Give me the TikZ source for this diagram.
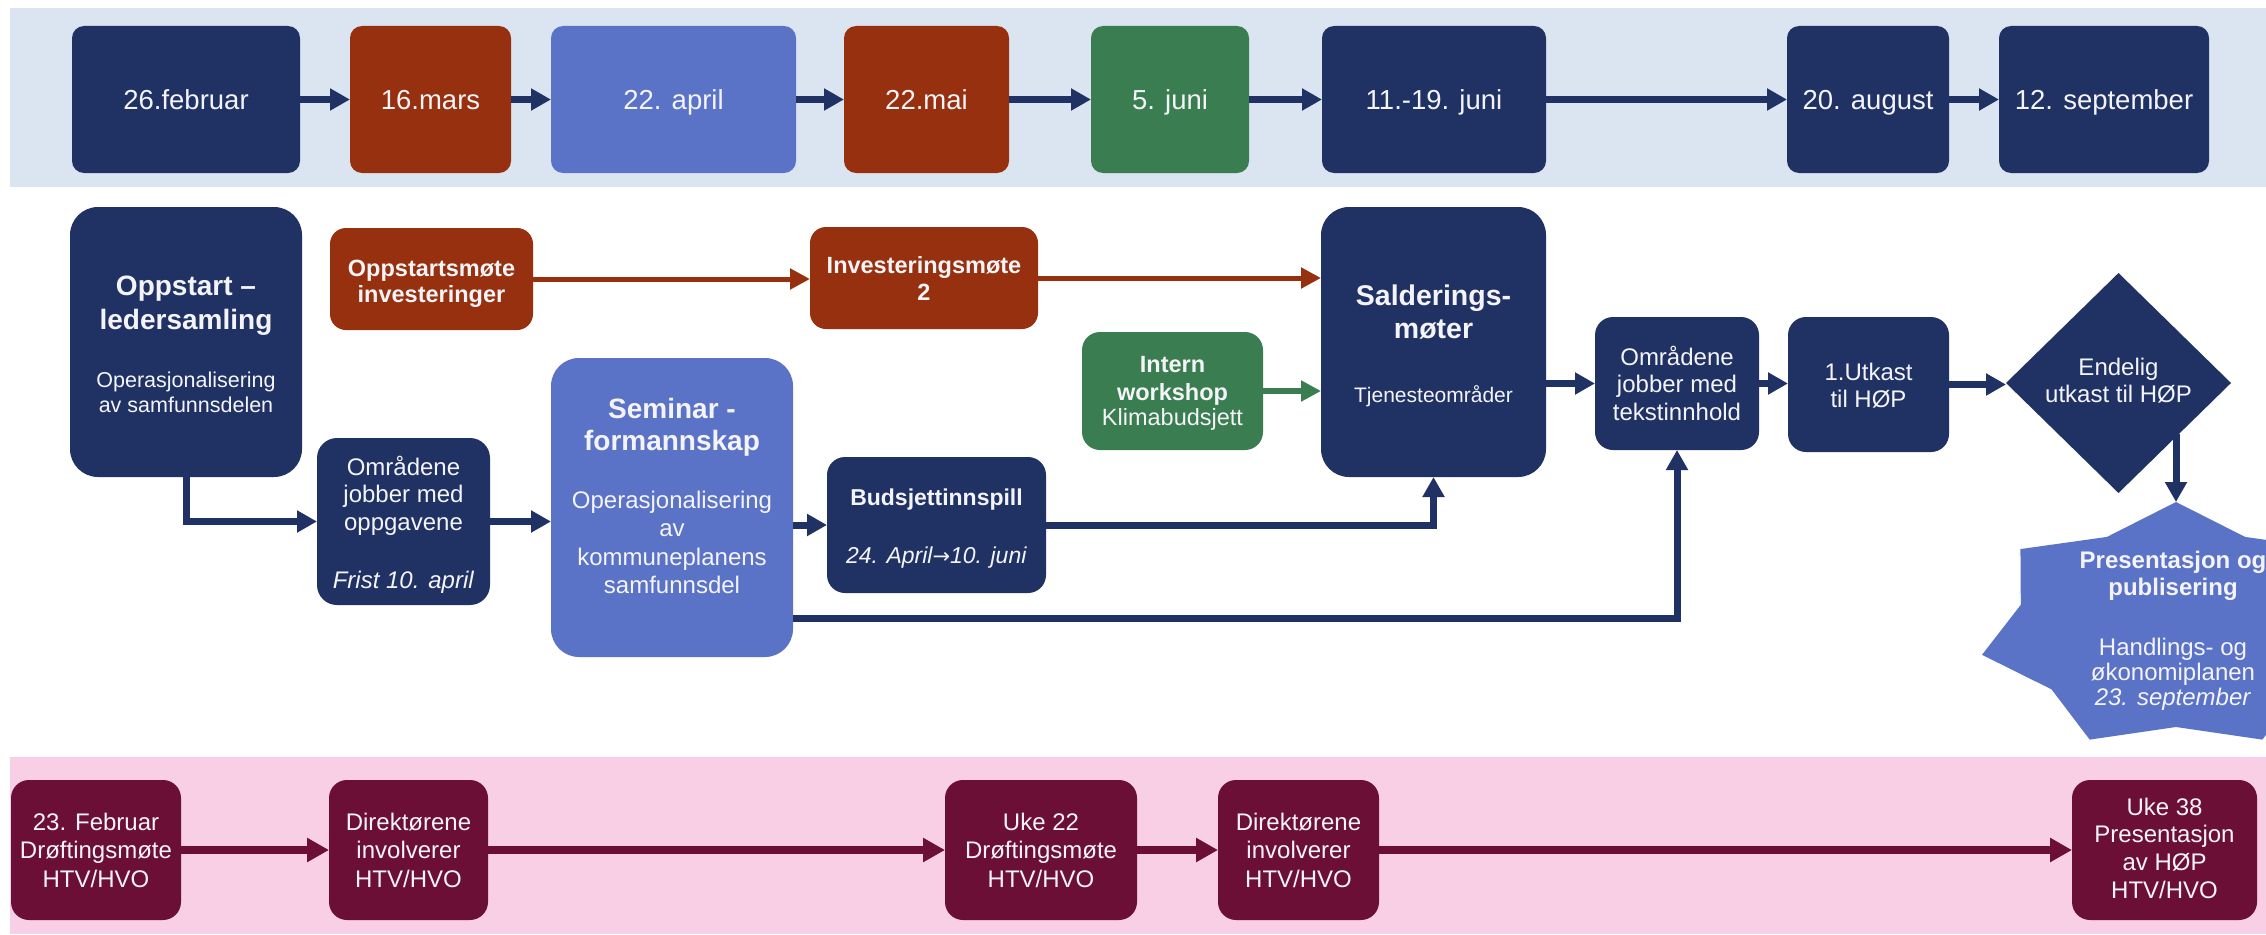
\documentclass[tikz,border=0pt]{standalone}
\usepackage{fontspec}
\setmainfont{Liberation Sans}
\newfontfamily\symfont{DejaVu Sans}
\usetikzlibrary{arrows.meta,shapes.geometric}
\definecolor{navy}{RGB}{32,50,100}
\definecolor{rust}{RGB}{150,48,14}
\definecolor{peri}{RGB}{90,115,199}
\definecolor{grn}{RGB}{57,125,81}
\definecolor{wine}{RGB}{108,15,54}
\definecolor{bandblue}{RGB}{218,229,241}
\definecolor{bandpink}{RGB}{248,207,228}
\definecolor{txtc}{RGB}{244,244,248}
\newcommand{\ml}[1]{\begin{tabular}[t]{@{}c@{}}#1\end{tabular}}
\begin{document}
\begin{tikzpicture}[x=1pt,y=-1pt,
  bx/.style={fill=#1, draw=none, inner sep=0pt, outer sep=0pt},
  topbox/.style={bx=#1, minimum height=147pt, rounded corners=12pt},
  botbox/.style={bx=wine, minimum height=140pt, rounded corners=18pt},
  lbl/.style={anchor=base, inner sep=0pt, outer sep=0pt, text=txtc},
  fs/.style 2 args={font=\fontsize{#1}{#2}\selectfont},
  fb/.style 2 args={font=\bfseries\fontsize{#1}{#2}\selectfont},
  arr/.style={draw=navy, line width=7pt, -{Triangle[length=20pt,width=21pt]}},
  rarr/.style={draw=rust, line width=5pt, -{Triangle[length=20pt,width=20pt]}},
  garr/.style={draw=grn, line width=5.5pt, -{Triangle[length=20pt,width=20pt]}},
  warr/.style={draw=wine, line width=8pt, -{Triangle[length=22pt,width=23pt]}}]
\useasboundingbox (0,0) rectangle (2266,934);
\clip (0,0) rectangle (2266,934);
\fill[white] (0,0) rectangle (2266,934);
% bands
\fill[bandblue] (10,8) rectangle (2266,187);
\fill[bandpink] (10,757) rectangle (2266,934);

% top row
\node[topbox=navy, minimum width=228pt] (t1) at (186,99.5) {};
\node[topbox=rust, minimum width=161pt] (t2) at (430.5,99.5) {};
\node[topbox=peri, minimum width=245pt] (t3) at (673.5,99.5) {};
\node[topbox=rust, minimum width=165pt] (t4) at (926.5,99.5) {};
\node[topbox=grn, minimum width=158pt] (t5) at (1170,99.5) {};
\node[topbox=navy, minimum width=224pt] (t6) at (1434,99.5) {};
\node[topbox=navy, minimum width=162pt] (t7) at (1868,99.5) {};
\node[topbox=navy, minimum width=210pt] (t8) at (2104,99.5) {};
\node[lbl, fs={27.5}{32}] (t1l) at (186,109.5) {26.februar};
\node[lbl, fs={27.5}{32}] (t2l) at (430.5,109.5) {16.mars};
\node[lbl, fs={27.5}{32}] (t3l) at (673.5,109.5) {22. april};
\node[lbl, fs={27.5}{32}] (t4l) at (926.5,109.5) {22.mai};
\node[lbl, fs={27.5}{32}] (t5l) at (1170,109.5) {5. juni};
\node[lbl, fs={27.5}{32}] (t6l) at (1434,109.5) {11.-19. juni};
\node[lbl, fs={27.5}{32}] (t7l) at (1868,109.5) {20. august};
\node[lbl, fs={27.5}{32}] (t8l) at (2104,109.5) {12. september};
\draw[arr] (t1.east) -- (t2.west);
\draw[arr] (t2.east) -- (t3.west);
\draw[arr] (t3.east) -- (t4.west);
\draw[arr] (t4.east) -- (t5.west);
\draw[arr] (t5.east) -- (t6.west);
\draw[arr] (t6.east) -- (t7.west);
\draw[arr] (t7.east) -- (t8.west);

% middle
\node[bx=navy, minimum width=232pt, minimum height=270pt, rounded corners=28pt] (oppstart) at (186,342) {};
\node[lbl, fb={28}{34}] (oppstartT) at (186,295) {\ml{Oppstart –\\ledersamling}};
\node[lbl, fs={21.5}{25}] (oppstartB) at (186,387) {\ml{Operasjonalisering\\av samfunnsdelen}};

\node[bx=rust, minimum width=203pt, minimum height=102pt, rounded corners=16pt] (oppinv) at (431.5,279) {};
\node[lbl, fb={23.5}{26}] (oppinvT) at (431.5,276) {\ml{Oppstartsmøte\\investeringer}};

\node[bx=navy, minimum width=173pt, minimum height=167pt, rounded corners=20pt] (omr1) at (403.5,521.5) {};
\node[lbl, fs={24}{27.5}] (omr1T) at (403.5,475) {\ml{Områdene\\jobber med\\oppgavene}};
\node[lbl, fs={24}{27.5}] (omr1B) at (403.5,588) {\textit{Frist 10. april}};

\node[bx=peri, minimum width=242pt, minimum height=299pt, rounded corners=28pt] (seminar) at (672,507.5) {};
\node[lbl, fb={28}{32}] (seminarT) at (672,418) {\ml{Seminar -\\formannskap}};
\node[lbl, fs={24}{28.5}] (seminarB) at (672,508) {\ml{Operasjonalisering\\av\\kommuneplanens\\samfunnsdel}};

\node[bx=navy, minimum width=219pt, minimum height=136pt, rounded corners=18pt] (budsjett) at (936.5,525) {};
\node[lbl, fb={23}{27}] (budsjettT) at (936.5,505) {Budsjettinnspill};
\node[lbl, fs={23}{27}] (budsjettB) at (936.5,563) {\textit{24. April{\symfont\fontsize{21}{25}\selectfont →}10. juni}};

\node[bx=rust, minimum width=228pt, minimum height=102pt, rounded corners=16pt] (inv2) at (924,278) {};
\node[lbl, fb={23.5}{27}] (inv2T) at (924,273) {\ml{Investeringsmøte\\2}};

\node[bx=grn, minimum width=181pt, minimum height=118pt, rounded corners=18pt] (intern) at (1172.5,391) {};
\node[lbl, fb={23.5}{28}] (internT) at (1172.5,372) {\ml{Intern\\workshop}};
\node[lbl, fs={23.5}{28}] (internB) at (1172.5,425) {Klimabudsjett};

\node[bx=navy, minimum width=225pt, minimum height=270pt, rounded corners=28pt] (salder) at (1433.5,342) {};
\node[lbl, fb={28.5}{33}] (salderT) at (1433.5,305) {\ml{Salderings-\\møter}};
\node[lbl, fs={21}{25}] (salderB) at (1433.5,402) {Tjenesteområder};

\node[bx=navy, minimum width=164pt, minimum height=133pt, rounded corners=18pt] (omr2) at (1677,383.5) {};
\node[lbl, fs={24}{27.5}] (omr2T) at (1677,365) {\ml{Områdene\\jobber med\\tekstinnhold}};

\node[bx=navy, minimum width=161pt, minimum height=135pt, rounded corners=18pt] (utk) at (1868.5,384.5) {};
\node[lbl, fs={24}{27}] (utkT) at (1868.5,380) {\ml{1.Utkast\\til HØP}};

\node[bx=navy, shape=diamond, minimum width=225pt, minimum height=220pt] (diamond) at (2118.5,383) {};
\node[lbl, fs={24}{27}] (diamondT) at (2118.5,375) {\ml{Endelig\\utkast til HØP}};

% star
\fill[peri] plot[variable=\k, samples at={0,1,...,13}]
  ({2176+199*ifthenelse(mod(\k,2)==0,1,0.8)*cos(90+25.7143*\k)},
   {627-125*ifthenelse(mod(\k,2)==0,1,0.8)*sin(90+25.7143*\k)}) -- cycle;
\coordinate (startop) at (2176,502);
\node[lbl, fb={24}{27}] (starT) at (2173,568) {\ml{Presentasjon og\\publisering}};
\node[lbl, fs={24}{25}] (starB) at (2173,655) {\ml{Handlings- og\\økonomiplanen\\\textit{23. september}}};

% middle connectors
\coordinate (lowy) at (0,618);
\draw[arr] (oppstart.south) |- (omr1.west);
\draw[arr] (omr1.east) -- (omr1.east -| seminar.west);
\draw[arr] (seminar.east |- budsjett.west) -- (budsjett.west);
\draw[arr] (budsjett.east) -| (salder.south);
\draw[arr] (seminar.east |- lowy) -| (omr2.south);
\draw[rarr] (oppinv.east) -- (oppinv.east -| inv2.west);
\draw[rarr] (inv2.east) -- (inv2.east -| salder.west);
\draw[garr] (intern.east) -- (intern.east -| salder.west);
\draw[arr] (salder.east |- omr2.west) -- (omr2.west);
\draw[arr] (omr2.east) -- (omr2.east -| utk.west);
\draw[arr] (utk.east) -- (utk.east -| diamond.west);
\draw[arr] (startop |- diamond.-40) -- (startop);

% bottom row
\node[botbox, minimum width=170pt] (b1) at (96,850) {};
\node[botbox, minimum width=159pt] (b2) at (408.5,850) {};
\node[botbox, minimum width=192pt] (b3) at (1041,850) {};
\node[botbox, minimum width=161pt] (b4) at (1298.5,850) {};
\node[botbox, minimum width=185pt] (b5) at (2164.5,850) {};
\node[lbl, fs={24}{28.5}] (b1T) at (96,830) {\ml{23. Februar\\Drøftingsmøte\\HTV/HVO}};
\node[lbl, fs={24}{28.5}] (b2T) at (408.5,830) {\ml{Direktørene\\involverer\\HTV/HVO}};
\node[lbl, fs={24}{28.5}] (b3T) at (1041,830) {\ml{Uke 22\\Drøftingsmøte\\HTV/HVO}};
\node[lbl, fs={24}{28.5}] (b4T) at (1298.5,830) {\ml{Direktørene\\involverer\\HTV/HVO}};
\node[lbl, fs={24}{27.7}] (b5T) at (2164.5,815) {\ml{Uke 38\\Presentasjon\\av HØP\\HTV/HVO}};
\draw[warr] (b1.east) -- (b2.west);
\draw[warr] (b2.east) -- (b3.west);
\draw[warr] (b3.east) -- (b4.west);
\draw[warr] (b4.east) -- (b5.west);
\end{tikzpicture}
\end{document}
